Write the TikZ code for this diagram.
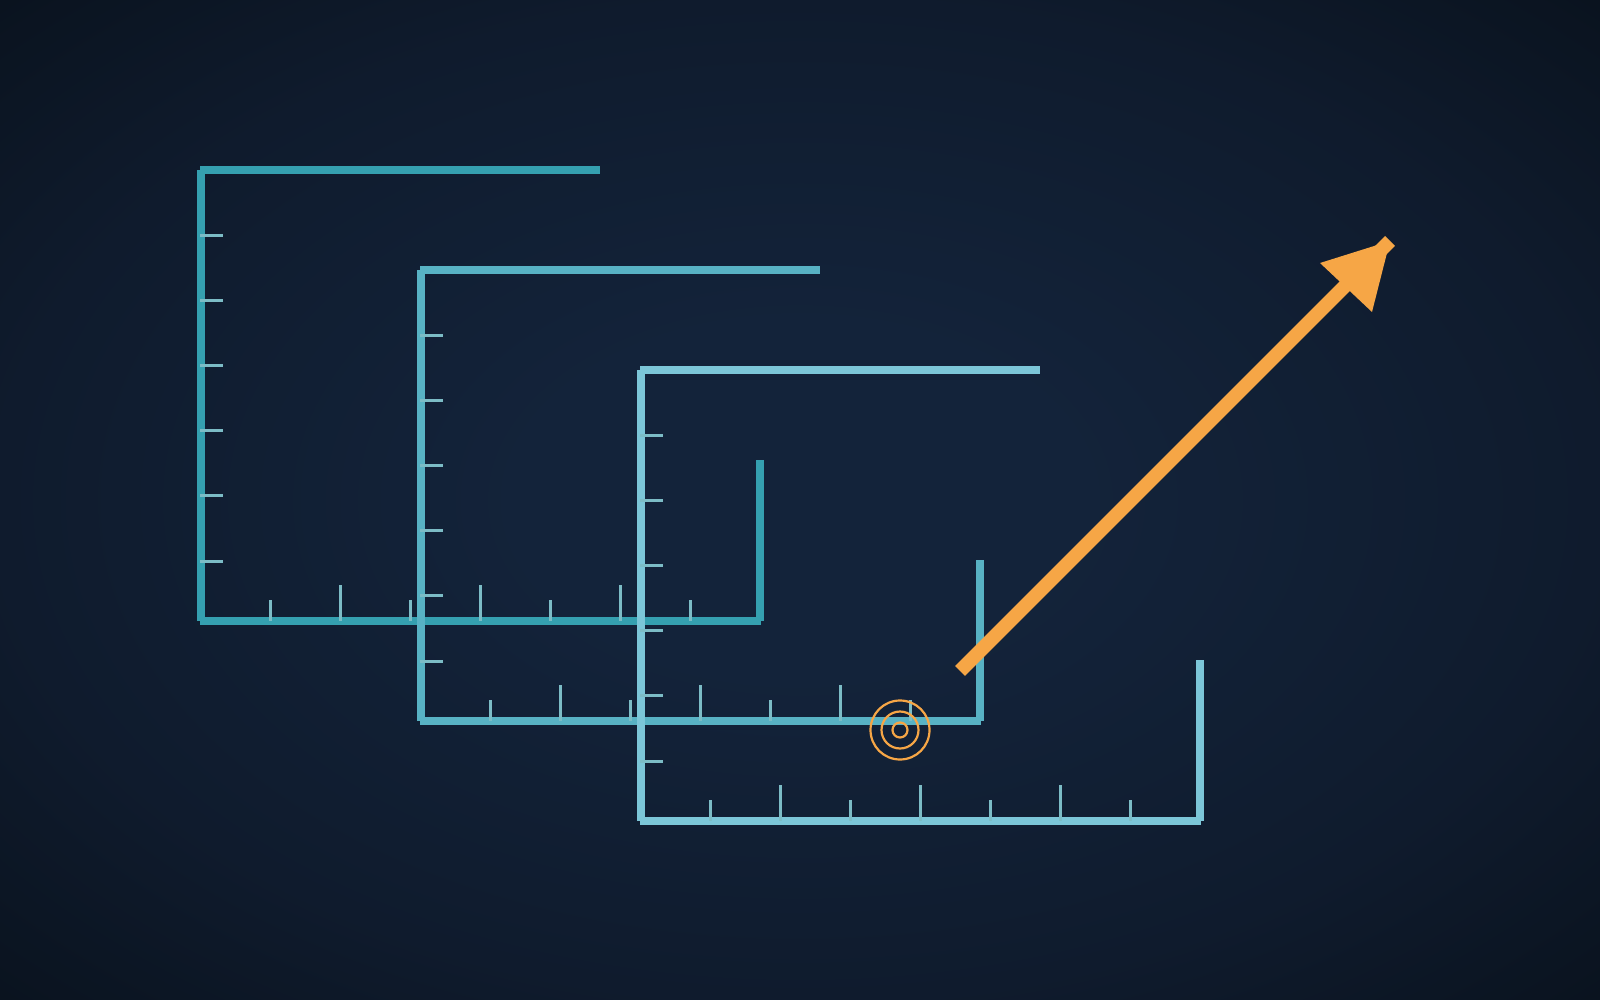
\documentclass[tikz,border=0pt]{standalone}
\usetikzlibrary{calc}
\definecolor{bgin}{HTML}{13233A}
\definecolor{bgmid}{HTML}{0F1B2D}
\definecolor{bgout}{HTML}{0A131F}
\definecolor{frameA}{HTML}{35A0B0}
\definecolor{frameB}{HTML}{58B2C4}
\definecolor{frameC}{HTML}{7CC6D8}
\definecolor{tickcol}{HTML}{7CBCC6}
\definecolor{accent}{HTML}{F6A646}
\pgfdeclareradialshading{bgshade}{\pgfpoint{0bp}{0bp}}{color(0bp)=(bgin); color(35bp)=(bgin); color(100bp)=(bgmid); color(141bp)=(bgout); color(150bp)=(bgout)}
\tikzset{
  axisline/.style={line width=8pt, line cap=butt},
  tickline/.style={line width=3pt, line cap=butt, draw=tickcol},
  ringline/.style={line width=2.2pt, draw=accent},
}
\newcommand{\myframe}[1]{%
  \draw[axisline, draw=#1] (201,170) -- (201,621);
  \draw[axisline, draw=#1] (200,170) -- (600,170);
  \draw[axisline, draw=#1] (200,621) -- (761,621);
  \draw[axisline, draw=#1] (760,460) -- (760,621);
  \foreach \ty in {235.5,300.6,365.7,430.8,495.9,561}{\draw[tickline] (200,\ty) -- (223,\ty);}
  \foreach \tx in {270.5,410.5,550.5,690.5}{\draw[tickline] (\tx,600) -- (\tx,621);}
  \foreach \tx in {340.5,480.5,620.5}{\draw[tickline] (\tx,585) -- (\tx,621);}
}
\begin{document}
\begin{tikzpicture}[x=1pt,y=-1pt]
\useasboundingbox (0,0) rectangle (1600,1000);
\fill[bgout] (0,0) rectangle (1600,1000);
\begin{scope}
\clip (0,0) rectangle (1600,1000);
\begin{scope}[transform canvas={shift={(800,500)}, xscale=7.97, yscale=4.98}]
\pgftext{\pgfuseshading{bgshade}}
\end{scope}
\end{scope}
\begin{scope}\myframe{frameA}\end{scope}
\begin{scope}[shift={(220,100)}]\myframe{frameB}\end{scope}
\begin{scope}[shift={(440,200)}]\myframe{frameC}\end{scope}
\coordinate (target) at (900,730);
\draw[ringline] (target) circle[radius=29.5];
\draw[ringline] (target) circle[radius=18.5];
\draw[ringline] (target) circle[radius=7.5];
\coordinate (arrowstart) at (960,671);
\coordinate (arrowtip) at (1390,241);
\coordinate (headleft) at (1320,263);
\coordinate (headright) at (1372,312);
\draw[line width=14pt, line cap=butt, draw=accent] (arrowstart) -- (arrowtip);
\fill[accent] (arrowtip) -- (headleft) -- (headright) -- cycle;
\end{tikzpicture}
\end{document}
